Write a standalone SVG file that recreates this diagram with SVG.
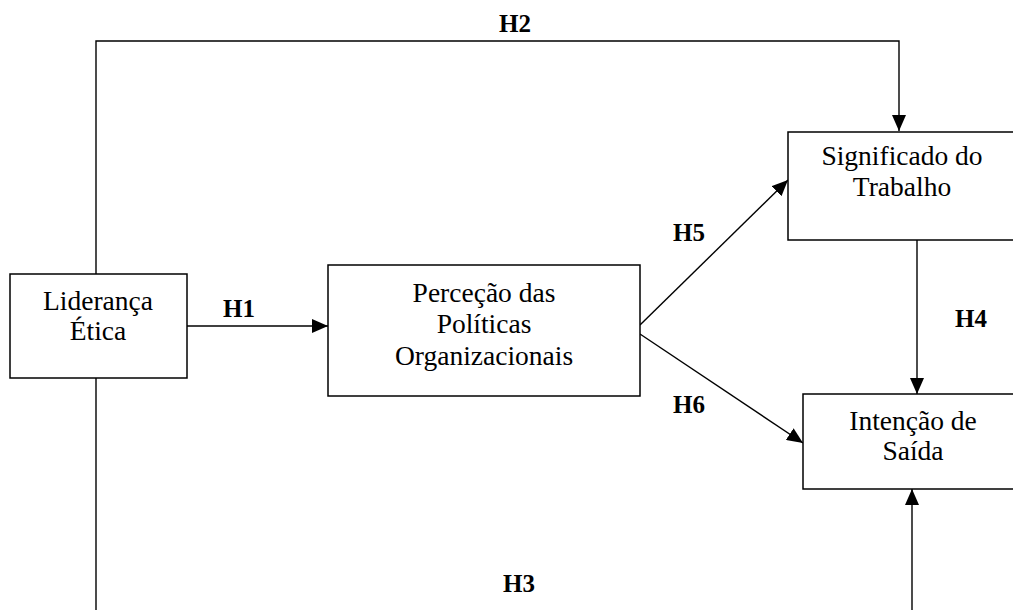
<svg xmlns="http://www.w3.org/2000/svg" width="1013" height="610" viewBox="0 0 1013 610">
<defs>
<marker id="arr" markerUnits="userSpaceOnUse" markerWidth="16" markerHeight="14" refX="16" refY="7" orient="auto">
<path d="M0,0 L16,7 L0,14 z" fill="#000"/>
</marker>
<style>
.box{fill:#fff;stroke:#000;stroke-width:1.5}
.t{font-family:"Liberation Serif","Times New Roman",serif;font-size:27.5px;fill:#000;text-anchor:middle}
.lbl{font-family:"Liberation Serif","Times New Roman",serif;font-size:25px;font-weight:bold;fill:#000;text-anchor:middle}
.c{fill:none;stroke:#000;stroke-width:1.4}
</style>
</defs>
<rect width="1013" height="610" fill="#fff"/>
<g id="connectors">
<line class="c" x1="187" y1="326" x2="328" y2="326" marker-end="url(#arr)"/>
<path class="c" d="M96,274 V41 H899 V131" marker-end="url(#arr)"/>
<path class="c" d="M96,378 V640 H912 V489" marker-end="url(#arr)"/>
<line class="c" x1="917" y1="240" x2="917" y2="394" marker-end="url(#arr)"/>
<line class="c" x1="640" y1="325" x2="788" y2="180" marker-end="url(#arr)"/>
<line class="c" x1="640" y1="334" x2="803" y2="443" marker-end="url(#arr)"/>
</g>
<g id="labels">
<text class="lbl" x="239" y="317">H1</text>
<text class="lbl" x="515" y="32">H2</text>
<text class="lbl" x="519" y="592">H3</text>
<text class="lbl" x="971" y="327">H4</text>
<text class="lbl" x="689" y="241">H5</text>
<text class="lbl" x="689" y="413">H6</text>
</g>
<g id="lideranca">
<rect class="box" x="10" y="274" width="177" height="104"/>
<text class="t" x="98" y="310">Liderança</text>
<text class="t" x="98" y="340">Ética</text>
</g>
<g id="percecao">
<rect class="box" x="328" y="265" width="312" height="131"/>
<text class="t" x="484" y="302">Perceção das</text>
<text class="t" x="484" y="333">Políticas</text>
<text class="t" x="484" y="365">Organizacionais</text>
</g>
<g id="significado">
<rect class="box" x="788" y="132" width="240" height="108"/>
<text class="t" x="902" y="165">Significado do</text>
<text class="t" x="902" y="196">Trabalho</text>
</g>
<g id="intencao">
<rect class="box" x="803" y="394" width="240" height="95"/>
<text class="t" x="913" y="430">Intenção de</text>
<text class="t" x="913" y="460">Saída</text>
</g>
</svg>
